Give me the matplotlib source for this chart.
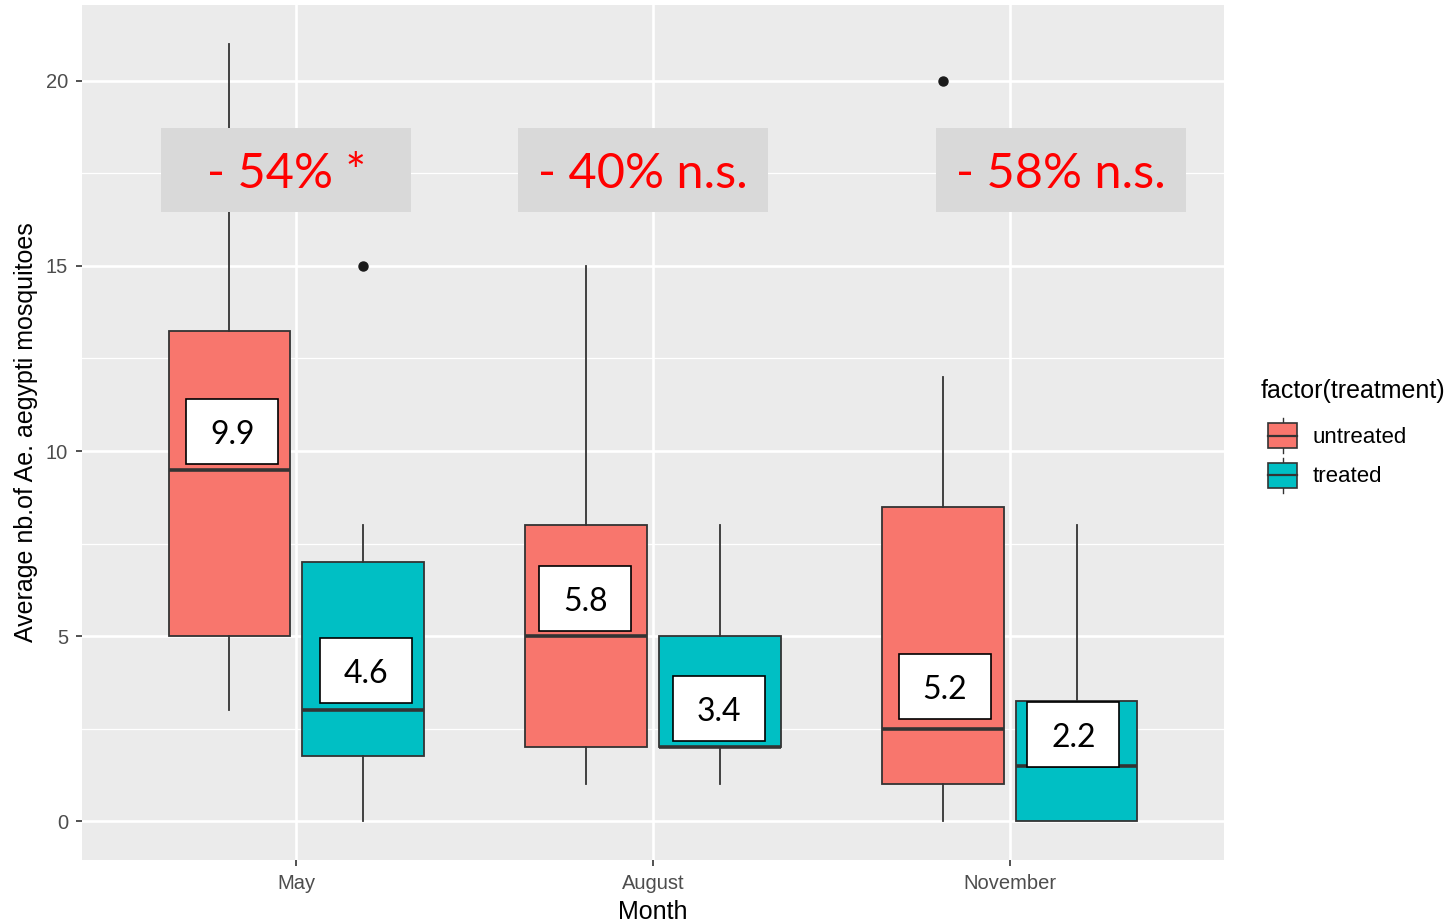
import matplotlib
matplotlib.use("Agg")
import matplotlib.pyplot as plt
from matplotlib.patches import Rectangle, Patch
from matplotlib.legend_handler import HandlerBase
from matplotlib.lines import Line2D

# ---------------- data ----------------
months = ["May", "August", "November"]
treatments = ["untreated", "treated"]
# box statistics: [whislo, q1, med, q3, whishi]
untreated_stats = [[3, 5, 9.5, 13.25, 21],
                   [1, 2, 5, 8, 15],
                   [0, 1, 2.5, 8.5, 12]]
treated_stats = [[0, 1.75, 3, 7, 8],
                 [1, 2, 2, 5, 8],
                 [0, 0, 1.5, 3.25, 8]]
untreated_outliers = [[], [], [20]]
treated_outliers = [[15], [], []]
mean_labels_untreated = ["9.9", "5.8", "5.2"]
mean_labels_treated = ["4.6", "3.4", "2.2"]
reduction_labels = ["- 54% *", "- 40% n.s.", "- 58% n.s."]
yticks = [0, 5, 10, 15, 20]

# ---------------- layout / style ----------------
W, H = 1455, 923
fig = plt.figure(figsize=(W / 100, H / 100), dpi=100)
ax = fig.add_axes([82 / W, 1 - 860 / H, (1224 - 82) / W, (860 - 5) / H])
ax.set_facecolor("#EBEBEB")
fig.patch.set_facecolor("white")

colors = {"untreated": "#F8766D", "treated": "#00BFC4"}
dodge = 0.1875
bw = 0.34

def make_stats(arr, outl):
    out = []
    for s, o in zip(arr, outl):
        out.append(dict(whislo=s[0], q1=s[1], med=s[2], q3=s[3], whishi=s[4], fliers=o))
    return out

for tr, stats, outl, off in [("untreated", untreated_stats, untreated_outliers, -dodge),
                             ("treated", treated_stats, treated_outliers, dodge)]:
    pos = [i + 1 + off for i in range(len(months))]
    ax.bxp(make_stats(stats, outl), positions=pos, widths=bw, patch_artist=True,
           showcaps=False, manage_ticks=False,
           boxprops=dict(facecolor=colors[tr], edgecolor="#333333", linewidth=1.3),
           whiskerprops=dict(color="#333333", linewidth=1.3),
           medianprops=dict(color="#333333", linewidth=2.6),
           flierprops=dict(marker="o", markerfacecolor="#1a1a1a", markeredgecolor="#1a1a1a",
                           markersize=6.5),
           zorder=3)

ax.set_xlim(0.4, 3.6)
ax.set_ylim(-1.05, 22.05)
ax.set_xticks([1, 2, 3])
ax.set_xticklabels(months)
ax.set_yticks(yticks)
ax.set_yticks([2.5, 7.5, 12.5, 17.5], minor=True)
ax.set_xticks([], minor=True)
ax.grid(which="major", color="white", linewidth=1.9, zorder=0)
ax.grid(which="minor", axis="y", color="white", linewidth=0.9, zorder=0)
ax.set_axisbelow(True)
for sp in ax.spines.values():
    sp.set_visible(False)
ax.tick_params(axis="both", which="major", colors="#333333", length=4, width=1.2,
               labelsize=14.5, labelcolor="#4D4D4D", pad=6)
ax.tick_params(axis="both", which="minor", length=0)
for lab in ax.get_xticklabels() + ax.get_yticklabels():
    lab.set_family("Liberation Sans")

ax.set_xlabel("Month", fontsize=18, family="Liberation Sans", color="black", labelpad=5)
ax.set_ylabel("Average nb.of Ae. aegypti mosquitoes", fontsize=18, family="Liberation Sans",
              color="black", labelpad=6)

# ---------------- annotations ----------------
px_x = 3.2 / (1224 - 82)
px_y = 23.1 / (860 - 5)
wb_w, wb_h = 92 * px_x, 65 * px_y
white_pos_untreated = [(0.821, 10.54), (1.81, 6.01), (2.818, 3.63)]
white_pos_treated = [(1.195, 4.08), (2.185, 3.03), (3.178, 2.33)]
for labels, poss in [(mean_labels_untreated, white_pos_untreated),
                     (mean_labels_treated, white_pos_treated)]:
    for lab, (cx, cy) in zip(labels, poss):
        ax.add_patch(Rectangle((cx - wb_w / 2, cy - wb_h / 2), wb_w, wb_h, facecolor="white",
                               edgecolor="black", linewidth=1.2, zorder=5))
        ax.text(cx, cy - 3.5 * px_y, lab, ha="center", va="center", fontsize=23, family="Lato",
                color="black", zorder=6)

gb_w, gb_h = 250 * px_x, 84 * px_y
gray_pos = [(0.972, 17.6), (1.972, 17.6), (3.143, 17.6)]
for lab, (cx, cy) in zip(reduction_labels, gray_pos):
    ax.add_patch(Rectangle((cx - gb_w / 2, cy - gb_h / 2), gb_w, gb_h, facecolor="#D9D9D9",
                           edgecolor="none", zorder=5))
    ax.text(cx, cy - 4 * px_y, lab, ha="center", va="center", fontsize=35, family="Lato",
            color="#FF0000", zorder=6)

# ---------------- legend ----------------
KEY_W_PT = 29 * 72 / 100  # key box width (29 px) in points

class BoxHandler(HandlerBase):
    def create_artists(self, legend, orig_handle, xdescent, ydescent, width, height,
                       fontsize, trans):
        fc = orig_handle.get_facecolor()
        x0, y0 = -xdescent + width - KEY_W_PT, -ydescent
        kw = KEY_W_PT
        bh = height * 0.72
        by = y0 + (height - bh) / 2
        cx = x0 + kw / 2
        wl = Line2D([cx, cx], [y0, y0 + height], color="#333333", linewidth=1.0, transform=trans)
        r = Rectangle((x0, by), kw, bh, facecolor=fc, edgecolor="#333333", linewidth=1.2,
                      transform=trans)
        m = Line2D([x0, x0 + kw], [y0 + height / 2] * 2, color="#333333", linewidth=1.6,
                   transform=trans)
        return [wl, r, m]

handles = [Patch(facecolor=colors[t], edgecolor="#333333") for t in treatments]
leg = fig.legend(handles, treatments, handler_map={Patch: BoxHandler()},
                 loc="upper left", bbox_to_anchor=(1261 / W, 1 - 379 / H),
                 frameon=False, title="factor(treatment)",
                 prop={"family": "Liberation Sans", "size": 16},
                 handlelength=36 * 0.72 / 16, handleheight=2.03, labelspacing=0.225,
                 handletextpad=0.7, borderaxespad=0, borderpad=0)
leg.get_title().set_fontsize(18)
leg.get_title().set_family("Liberation Sans")
leg._legend_box.align = "left"
leg._legend_box.sep = 11

fig.savefig("out.png", dpi=100)
